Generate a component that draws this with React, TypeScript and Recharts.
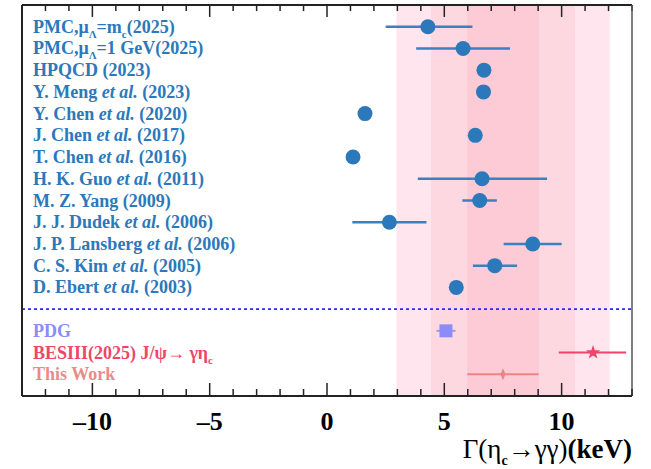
import { ScatterChart, Scatter, XAxis, YAxis, ErrorBar, ReferenceArea, ReferenceLine } from 'recharts';

// theory / lattice results, top to bottom (keV)
const studyLabels = [
  'PMC,μ_{Λ}=m_{c}(2025)',
  'PMC,μ_{Λ}=1 GeV(2025)',
  'HPQCD (2023)',
  'Y. Meng *et al.* (2023)',
  'Y. Chen *et al.* (2020)',
  'J. Chen *et al.* (2017)',
  'T. Chen *et al.* (2016)',
  'H. K. Guo *et al.* (2011)',
  'M. Z. Yang (2009)',
  'J. J. Dudek *et al.* (2006)',
  'J. P. Lansberg *et al.* (2006)',
  'C. S. Kim *et al.* (2005)',
  'D. Ebert *et al.* (2003)',
];
const studyValues = [4.3, 5.8, 6.69, 6.67, 1.62, 6.32, 1.11, 6.61, 6.51, 2.66, 8.77, 7.15, 5.51];
const studyErrLow = [1.8, 2.0, 0.06, 0.16, 0, 0, 0, 2.74, 0.74, 1.58, 1.24, 0.93, 0];
const studyErrHigh = [1.9, 2.0, 0.06, 0.16, 0, 0, 0, 2.77, 0.73, 1.58, 1.23, 0.95, 0];

// measurements below the dashed line
const pdgValue = [5.07, 0.4, 0.41];
const besValue = [11.34, 1.46, 1.41];
const thisWorkValue = [7.5, 1.52, 1.52];

// this work uncertainty bands (outer -> inner)
const bandLow = [2.96, 4.44, 5.98];
const bandHigh = [12.05, 10.57, 9.04];
const bandColors = ['#fee5ee', '#fdd8e1', '#fccbd5'];

const xTicks = Array.from({ length: 27 }, (_, i) => i - 13);
const Y_MIN = -1;
const Y_MAX = 17;
const FONT = '"Liberation Serif", "Times New Roman", serif';
const BLUE = '#2b78bb';

const studyData = studyValues.map((v, i) => ({ x: v, y: i, err: [studyErrLow[i], studyErrHigh[i]] }));
const labelRows = [
  ...studyLabels.map((t, i) => ({ x: -13, y: i, text: t, color: BLUE })),
  { x: -13, y: 14, text: 'PDG', color: '#8b8cf6' },
  { x: -13, y: 15, text: 'BESIII(2025) J/ψ→ γη_{c}', color: '#ef4668' },
  { x: -13, y: 16, text: 'This Work', color: '#e98b8b' },
];

function richText(src: string) {
  const parts = src.split(/(_\{[^}]*\}|\*[^*]*\*)/).filter(Boolean);
  const out: any[] = [];
  let sub = false;
  parts.forEach((p, i) => {
    if (p.startsWith('_{')) {
      out.push(<tspan key={i} dy={5} fontSize={11}>{p.slice(2, -1)}</tspan>);
      sub = true;
    } else if (p.startsWith('*')) {
      out.push(<tspan key={i} dy={sub ? -5 : 0} fontStyle="italic">{p.slice(1, -1)}</tspan>);
      sub = false;
    } else {
      out.push(<tspan key={i} dy={sub ? -5 : 0}>{p}</tspan>);
      sub = false;
    }
  });
  return out;
}

const LabelShape = (props: any) => {
  const { cx, cy, payload } = props;
  return (
    <text x={cx + 11} y={cy + 6} fill={payload.color} fontFamily={FONT} fontWeight="bold" fontSize={18}>
      {richText(payload.text)}
    </text>
  );
};

const Dot = (props: any) => <circle cx={props.cx} cy={props.cy} r={7.5} fill={BLUE} />;
const Square = (props: any) => <rect x={props.cx - 6.5} y={props.cy - 6.5} width={13} height={13} fill="#8b8cf8" />;
const Star = (props: any) => {
  const { cx, cy } = props;
  const pts: string[] = [];
  for (let i = 0; i < 10; i++) {
    const r = i % 2 === 0 ? 7.5 : 3;
    const a = -Math.PI / 2 + (i * Math.PI) / 5;
    pts.push(`${cx + r * Math.cos(a)},${cy + r * Math.sin(a)}`);
  }
  return <polygon points={pts.join(' ')} fill="#f0426a" />;
};
const Spike = (props: any) => {
  const { cx, cy } = props;
  return <polygon points={`${cx},${cy - 6} ${cx + 2.5},${cy} ${cx},${cy + 6} ${cx - 2.5},${cy}`} fill="#e98585" />;
};

const BottomTick = (props: any) => {
  const { x, y, payload } = props;
  const v = payload.value;
  const major = v % 5 === 0;
  return (
    <g>
      <line x1={x} x2={x} y1={y} y2={y - (major ? 13 : 7)} stroke="#222" strokeWidth={1.5} />
      {major && (
        <text x={x} y={y + 34} textAnchor="middle" fontFamily={FONT} fontWeight="bold" fontSize={26} fill="#000">
          {v < 0 ? `\u2013${Math.abs(v)}` : v}
        </text>
      )}
    </g>
  );
};

const AxisTitle = (props: any) => {
  const vb = props.viewBox;
  return (
    <text x={vb.x + vb.width} y={vb.y + 62} textAnchor="end" fontFamily={FONT} fontSize={27} fill="#000">
      Γ(η<tspan dy={7} fontSize={14} fontWeight="bold">c</tspan>
      <tspan dy={-7}>→γγ)</tspan>
      <tspan fontWeight="bold">(keV)</tspan>
    </text>
  );
};

export default function App() {
  return (
    <div style={{ position: 'absolute', left: 0, top: 0, width: 651, height: 469, background: '#fff' }}>
      <ScatterChart width={651} height={469} margin={{ top: 5, right: 18, bottom: 0, left: 21 }}>
        <XAxis
          type="number"
          dataKey="x"
          domain={[-13, 13]}
          ticks={xTicks}
          interval={0}
          allowDataOverflow
          height={73}
          tickSize={0}
          tickMargin={0}
          tick={<BottomTick />}
          axisLine={{ stroke: '#222', strokeWidth: 2 }}
          label={<AxisTitle />}
        />
        <YAxis
          type="number"
          dataKey="y"
          domain={[Y_MIN, Y_MAX]}
          reversed
          allowDataOverflow
          width={1}
          tick={false}
          tickLine={false}
          axisLine={{ stroke: '#222', strokeWidth: 2 }}
        />
        <YAxis
          yAxisId="right"
          orientation="right"
          type="number"
          dataKey="y"
          domain={[Y_MIN, Y_MAX]}
          reversed
          width={1}
          tick={false}
          tickLine={false}
          axisLine={{ stroke: '#555', strokeWidth: 1.5 }}
        />
        {bandLow.map((lo, i) => (
          <ReferenceArea key={i} x1={lo} x2={bandHigh[i]} y1={Y_MIN} y2={Y_MAX} fill={bandColors[i]} fillOpacity={1} stroke="none" />
        ))}
        <ReferenceLine y={13} stroke="#2a2af0" strokeWidth={1.6} strokeDasharray="3 3" />
        {/* top frame with mirrored ticks */}
        <ReferenceLine y={Y_MIN} stroke="#222" strokeWidth={2} ifOverflow="visible" />
        {xTicks.map((t) => (
          <ReferenceLine
            key={`top-${t}`}
            ifOverflow="visible"
            segment={[{ x: t, y: Y_MIN }, { x: t, y: Y_MIN + (t % 5 === 0 ? 0.55 : 0.28) }]}
            stroke="#222"
            strokeWidth={1.5}
          />
        ))}
        <Scatter data={labelRows} shape={<LabelShape />} isAnimationActive={false} />
        <Scatter data={studyData} shape={<Dot />} isAnimationActive={false}>
          <ErrorBar dataKey="err" direction="x" width={0} stroke="#3a80c2" strokeWidth={2.5} />
        </Scatter>
        <Scatter data={[{ x: pdgValue[0], y: 14, err: [pdgValue[1], pdgValue[2]] }]} shape={<Square />} isAnimationActive={false}>
          <ErrorBar dataKey="err" direction="x" width={0} stroke="#9a9af6" strokeWidth={2} />
        </Scatter>
        <Scatter data={[{ x: besValue[0], y: 15, err: [besValue[1], besValue[2]] }]} shape={<Star />} isAnimationActive={false}>
          <ErrorBar dataKey="err" direction="x" width={0} stroke="#f0426a" strokeWidth={2} />
        </Scatter>
        <Scatter data={[{ x: thisWorkValue[0], y: 16, err: [thisWorkValue[1], thisWorkValue[2]] }]} shape={<Spike />} isAnimationActive={false}>
          <ErrorBar dataKey="err" direction="x" width={0} stroke="#ea8585" strokeWidth={2} />
        </Scatter>
      </ScatterChart>
    </div>
  );
}
